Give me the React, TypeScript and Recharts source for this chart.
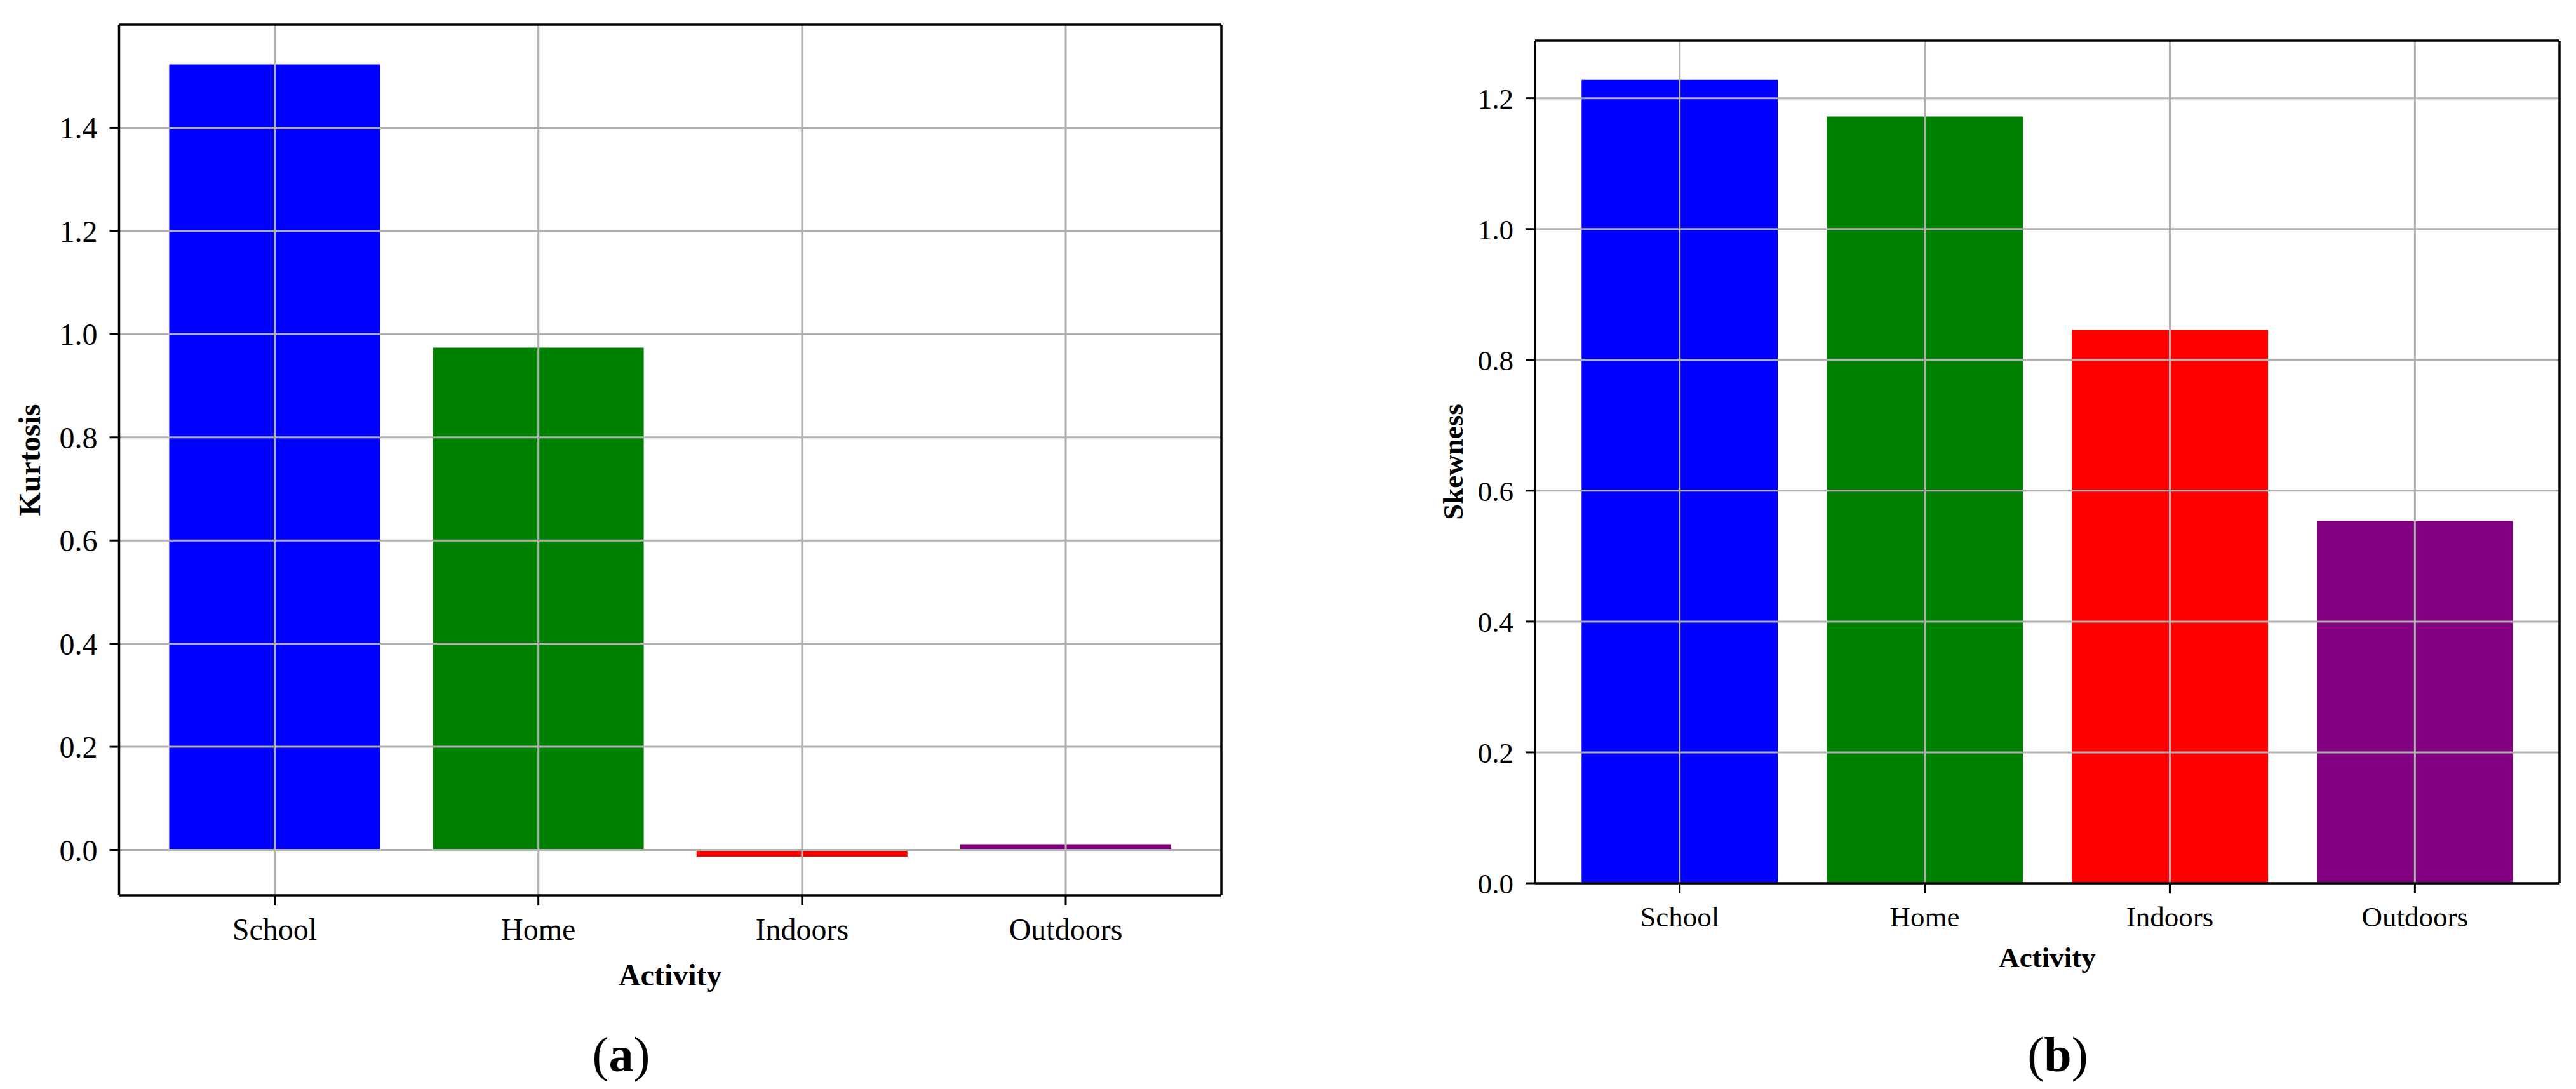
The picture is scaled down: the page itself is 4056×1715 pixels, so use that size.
import { Bar, BarChart, Cell, Label, ReferenceLine, XAxis, YAxis } from "recharts";

const activities = ["School", "Home", "Indoors", "Outdoors"];
const kurtosisValues = [1.523, 0.974, -0.013, 0.011];
const skewnessValues = [1.228, 1.172, 0.846, 0.554];
const kurtosisTicks = [0, 0.2, 0.4, 0.6, 0.8, 1.0, 1.2, 1.4];
const skewnessTicks = [0, 0.2, 0.4, 0.6, 0.8, 1.0, 1.2];

const barColors = ["#0000ff", "#008000", "#ff0000", "#800080"];
const FONT = "'Liberation Serif', 'Times New Roman', Times, serif";
const GRID = "#b0b0b0";
const frameLine = { stroke: "#000", strokeWidth: 3.5 };

interface PanelProps {
  values: number[];
  ticks: number[];
  domain: [number, number];
  yLabel: string;
  left: number;
  width: number;
  marginTop: number;
  marginRight: number;
  yAxisWidth: number;
  xAxisHeight: number;
  xPadding: number;
  fontSize: number;
  yLabelOffset: number;
  xLabelOffset: number;
}

function Panel({
  values,
  ticks,
  domain,
  yLabel,
  left,
  width,
  marginTop,
  marginRight,
  yAxisWidth,
  xAxisHeight,
  xPadding,
  fontSize,
  yLabelOffset,
  xLabelOffset,
}: PanelProps) {
  const data = activities.map((activity, i) => ({ activity, value: values[i] }));
  const tickStyle = { fill: "#000", fontSize, fontFamily: FONT };
  const labelStyle = { fill: "#000", fontSize, fontFamily: FONT, fontWeight: 700, textAnchor: "middle" as const };

  // the top and right axes only draw the box around the plot, like matplotlib's spines
  return (
    <div style={{ position: "absolute", left, top: 0 }}>
      <BarChart
        width={width}
        height={1715}
        data={data}
        margin={{ top: marginTop - 1, right: marginRight - 1, bottom: 0, left: 0 }}
        barCategoryGap="10%"
      >
        <XAxis
          dataKey="activity"
          height={xAxisHeight}
          padding={{ left: xPadding, right: xPadding }}
          axisLine={frameLine}
          tickLine={{ stroke: "#000", strokeWidth: 3 }}
          tickSize={16}
          tickMargin={20}
          tick={tickStyle}
          interval={0}
        >
          <Label value="Activity" position="insideBottom" offset={xLabelOffset} style={labelStyle} />
        </XAxis>
        <XAxis
          xAxisId="top"
          orientation="top"
          dataKey="activity"
          height={1}
          padding={{ left: xPadding, right: xPadding }}
          axisLine={frameLine}
          tickLine={false}
          tick={false}
        />
        <YAxis
          width={yAxisWidth}
          domain={domain}
          ticks={ticks}
          allowDataOverflow
          axisLine={frameLine}
          tickLine={{ stroke: "#000", strokeWidth: 3 }}
          tickSize={15}
          tickMargin={19}
          tick={tickStyle}
          tickFormatter={(v: number) => v.toFixed(1)}
        >
          <Label value={yLabel} angle={-90} position="insideLeft" offset={yLabelOffset} style={labelStyle} />
        </YAxis>
        <YAxis
          yAxisId="right"
          orientation="right"
          width={1}
          domain={domain}
          allowDataOverflow
          axisLine={frameLine}
          tickLine={false}
          tick={false}
        />
        <Bar dataKey="value" isAnimationActive={false}>
          {data.map((d, i) => (
            <Cell key={d.activity} fill={barColors[i]} />
          ))}
        </Bar>
        {ticks.map((t) => (
          <ReferenceLine key={`y${t}`} y={t} stroke={GRID} strokeWidth={3} />
        ))}
        {activities.map((a) => (
          <ReferenceLine key={`x${a}`} x={a} stroke={GRID} strokeWidth={3} />
        ))}
      </BarChart>
    </div>
  );
}

const captionStyle = {
  position: "absolute" as const,
  top: 1622,
  fontSize: 78,
  lineHeight: 1,
  fontFamily: FONT,
  color: "#000",
  transform: "translateX(-50%)",
  whiteSpace: "nowrap" as const,
};

export default function App() {
  return (
    <div
      style={{
        position: "absolute",
        left: 0,
        top: 0,
        width: 4056,
        height: 1715,
        background: "#fff",
        fontFamily: FONT,
        overflow: "hidden",
      }}
    >
      <Panel
        values={kurtosisValues}
        ticks={kurtosisTicks}
        domain={[-0.088, 1.6]}
        yLabel="Kurtosis"
        left={0}
        width={1960}
        marginTop={39}
        marginRight={37}
        yAxisWidth={187.5}
        xAxisHeight={305}
        xPadding={37.4}
        fontSize={48}
        yLabelOffset={46}
        xLabelOffset={163}
      />
      <Panel
        values={skewnessValues}
        ticks={skewnessTicks}
        domain={[0, 1.288]}
        yLabel="Skewness"
        left={2150}
        width={1906}
        marginTop={64}
        marginRight={26}
        yAxisWidth={267}
        xAxisHeight={324}
        xPadding={34.7}
        fontSize={45}
        yLabelOffset={137}
        xLabelOffset={192}
      />
      <div style={{ ...captionStyle, left: 978 }}>
        (<b>a</b>)
      </div>
      <div style={{ ...captionStyle, left: 3240 }}>
        (<b>b</b>)
      </div>
    </div>
  );
}
